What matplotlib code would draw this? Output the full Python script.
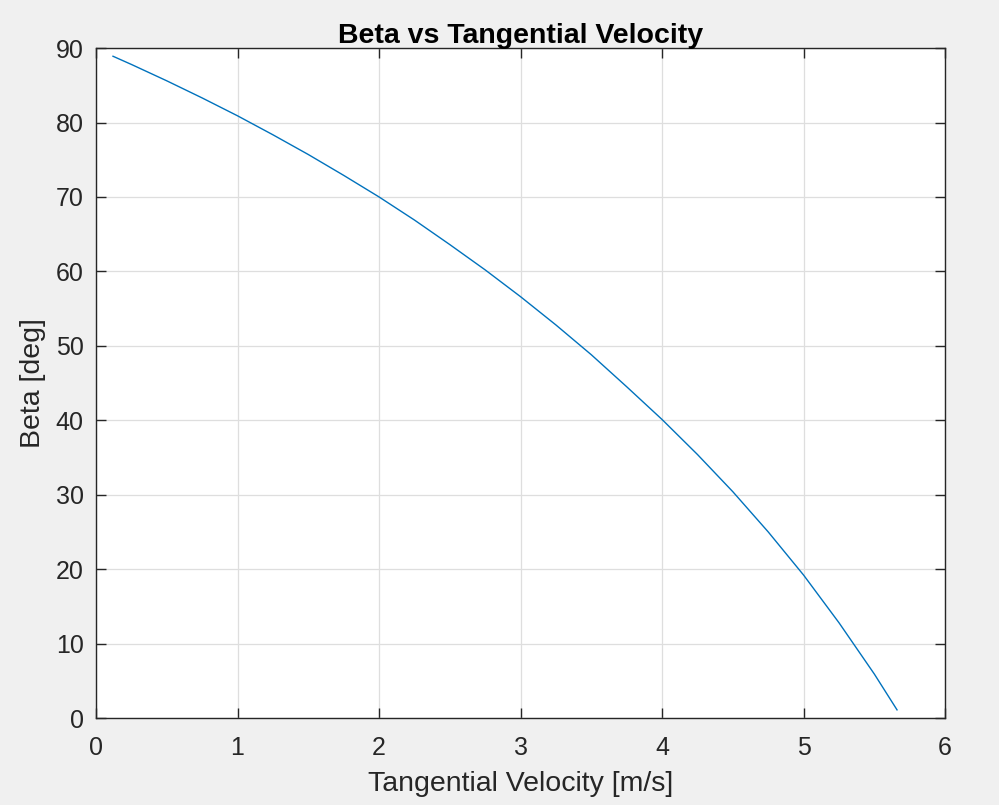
import matplotlib
matplotlib.use("Agg")
import matplotlib.pyplot as plt

velocity = [0.12, 0.25, 0.5, 0.75, 1.0, 1.25, 1.5, 1.75, 2.0, 2.25, 2.5, 2.75, 3.0,
            3.25, 3.5, 3.75, 4.0, 4.25, 4.5, 4.75, 5.0, 5.25, 5.5, 5.66]
beta = [88.9, 87.8, 85.6, 83.3, 80.9, 78.35, 75.7, 72.9, 70.0, 66.9, 63.6, 60.2, 56.6,
        52.8, 48.8, 44.5, 40.1, 35.4, 30.4, 25.0, 19.2, 12.8, 5.9, 1.1]
x_ticks = [0, 1, 2, 3, 4, 5, 6]
y_ticks = [0, 10, 20, 30, 40, 50, 60, 70, 80, 90]

plt.rcParams['font.family'] = ['Liberation Sans', 'DejaVu Sans']

fig = plt.figure(figsize=(9.99, 8.05), dpi=100, facecolor='#f0f0f0')
ax = fig.add_axes([0.0961, 0.108, 0.85, 0.8323])
ax.set_facecolor('white')
ax.plot(velocity, beta, color='#0072BD', lw=1.0)
ax.set_xlim(0, 6)
ax.set_ylim(0, 90)
ax.set_xticks(x_ticks)
ax.set_yticks(y_ticks)
ax.grid(True, color='#dedede', lw=0.9)
ax.set_axisbelow(True)
for s in ax.spines.values():
    s.set_color('#262626')
    s.set_linewidth(1.0)
ax.tick_params(direction='in', length=7, width=1.0, colors='#262626', labelsize=18,
               top=True, right=True)
ax.tick_params(axis='y', pad=9)
ax.tick_params(axis='x', pad=13)
ax.set_xlabel('Tangential Velocity [m/s]', fontsize=20.5, color='#262626', labelpad=8)
ax.set_ylabel('Beta [deg]', fontsize=20.5, color='#262626', labelpad=7)
ax.set_title('Beta vs Tangential Velocity', fontsize=20.5, fontweight='bold', color='black', pad=4)
fig.savefig('out.png', dpi=100, facecolor=fig.get_facecolor())
